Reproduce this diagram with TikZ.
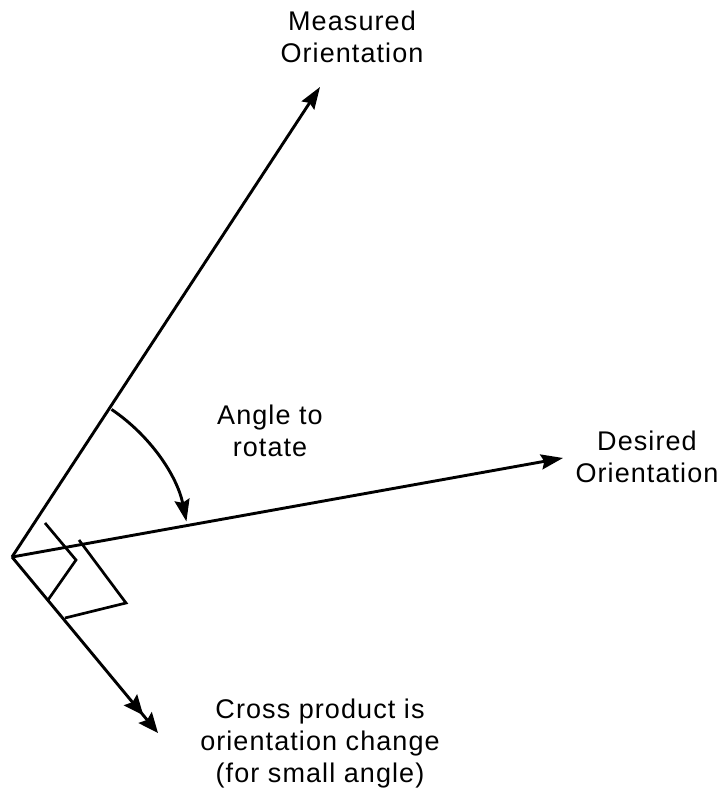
\documentclass[tikz,border=0pt]{standalone}
\usepackage{fontspec}
\setmainfont{Liberation Sans}[LetterSpace=4]
\usetikzlibrary{arrows.meta}
\begin{document}
\begin{tikzpicture}[x=1pt,y=1pt,
  vec/.style={line width=2.9pt,-{Stealth[length=22pt,width=15pt,inset=3pt]}},
  dblvec/.style={line width=2.9pt,-{Stealth[length=20pt,width=17pt,inset=3pt,sep=3pt]Stealth[length=20pt,width=17pt,inset=3pt]}},
  rtmark/.style={line width=2.7pt,line join=miter},
  lbl/.style={inner sep=0pt,align=center,font=\fontsize{27}{32}\selectfont}]
\useasboundingbox[fill=white] (0,0) rectangle (719,795);
\coordinate (O) at (12,238);
\coordinate (Mt) at (320,708);
\coordinate (Dt) at (563,337);
\coordinate (Ct) at (158,62);
\coordinate (a1) at (45,272);
\coordinate (a2) at (76,235);
\coordinate (a3) at (48,195);
\coordinate (b1) at (79,255);
\coordinate (b2) at (126,192);
\coordinate (b3) at (65,177);
\draw[vec] (O) -- (Mt);
\draw[vec] (O) -- (Dt);
\draw[dblvec] (O) -- (Ct);
\draw[rtmark] (a1) -- (a2) -- (a3);
\draw[rtmark] (b1) -- (b2) -- (b3);
\draw[vec] (O) ++(56:178) arc[start angle=56,end angle=11.5,radius=178];
\node[lbl] (meas) at (352,758) {Measured\\Orientation};
\node[lbl] (ang) at (270,364) {Angle to\\rotate};
\node[lbl] (des) at (647,338) {Desired\\Orientation};
\node[lbl] (cross) at (320,51) {Cross product is\\orientation change\\(for small angle)};
\end{tikzpicture}
\end{document}
